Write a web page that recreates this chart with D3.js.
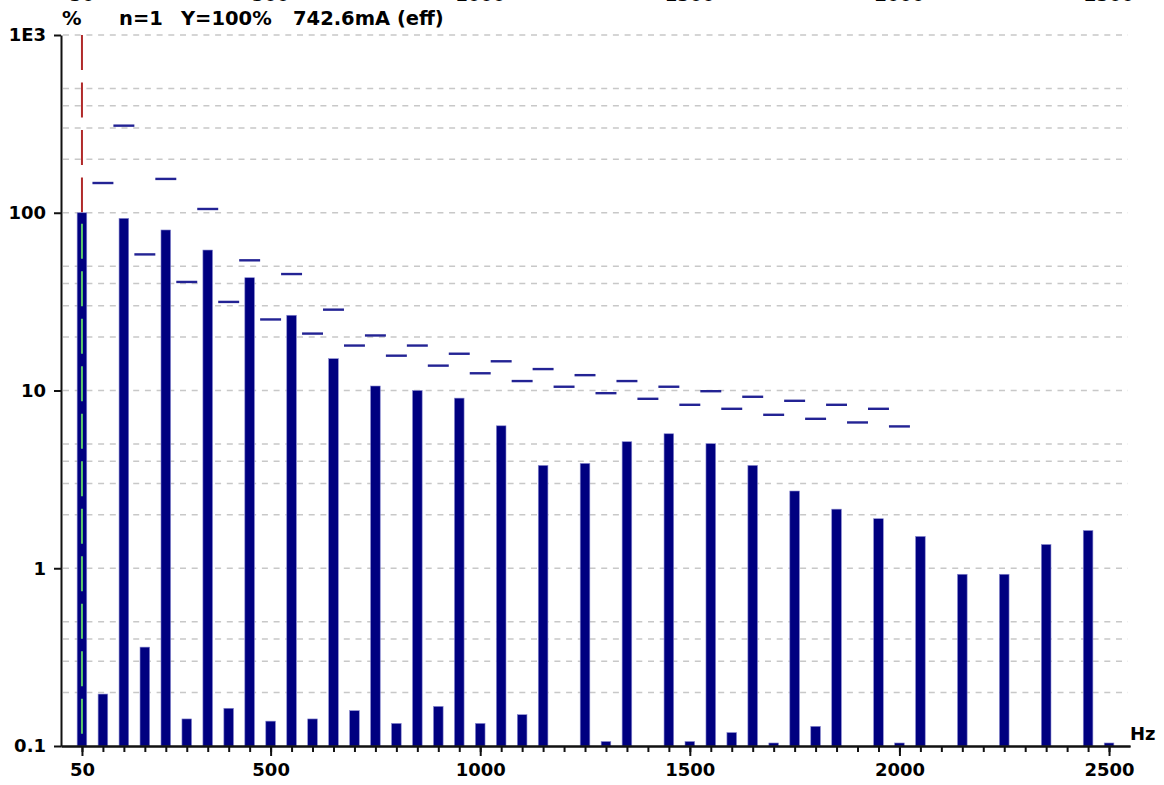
<!DOCTYPE html>
<html>
<head>
<meta charset="UTF-8">
<title>Harmonics</title>
<script src="https://cdn.jsdelivr.net/npm/d3@7"></script>
<style>
  body { margin: 0; background: #fff; }
  text { font-family: "DejaVu Sans", Verdana, sans-serif; font-weight: bold; fill: #000; }
</style>
</head>
<body>
<svg id="chart" width="1164" height="785"></svg>
<script>
  // harmonic frequencies (Hz)
  var freqs = [50, 100, 150, 200, 250, 300, 350, 400, 450, 500,
    550, 600, 650, 700, 750, 800, 850, 900, 950, 1000,
    1050, 1100, 1150, 1200, 1250, 1300, 1350, 1400, 1450, 1500,
    1550, 1600, 1650, 1700, 1750, 1800, 1850, 1900, 1950, 2000,
    2050, 2100, 2150, 2200, 2250, 2300, 2350, 2400, 2450, 2500];

  // measured level in % of fundamental (null = below range)
  var levels = [100, 0.196, 93, 0.36, 80, 0.142, 61.7, 0.163, 43.1, 0.138,
    26.5, 0.142, 15.1, 0.158, 10.6, 0.134, 10.0, 0.167, 9.06, 0.134,
    6.33, 0.150, 3.79, null, 3.89, 0.106, 5.15, null, 5.71, 0.106,
    5.02, 0.119, 3.79, 0.104, 2.72, 0.129, 2.15, null, 1.90, 0.104,
    1.51, null, 0.925, null, 0.925, null, 1.36, null, 1.63, 0.104];

  // limit marks for harmonics 2..40 (in %)
  var limitFreqs = freqs.slice(1, 40);
  var limits = [147, 309, 58.3, 155, 40.8, 105, 31.5, 54, 25.1, 45.2,
    20.9, 28.5, 17.9, 20.4, 15.7, 17.9, 13.8, 16.1, 12.5, 14.6,
    11.3, 13.2, 10.5, 12.2, 9.66, 11.3, 8.98, 10.5, 8.31, 9.91,
    7.89, 9.22, 7.30, 8.75, 6.93, 8.31, 6.61, 7.89, 6.28];

  var yMajor = [0.1, 1, 10, 100, 1000];
  var yMajorLabels = ["0.1", "1", "10", "100", "1E3"];
  var yGrid = [0.2, 0.3, 0.4, 0.5, 1, 2, 3, 4, 5, 10, 20, 30, 40, 50, 100, 200, 300, 400, 500, 1000];
  var xMajor = [50, 500, 1000, 1500, 2000, 2500];

  var svg = d3.select("#chart");

  var x = d3.scaleLinear().domain([0, 2550]).range([61, 1130]);
  var y = d3.scaleLog().domain([0.1, 1000]).range([746, 35]);

  // grid
  svg.append("g").selectAll("line")
    .data(yGrid)
    .enter().append("line")
    .attr("x1", 63).attr("x2", 1128)
    .attr("y1", d => y(d)).attr("y2", d => y(d))
    .attr("stroke", "#c8c8c8")
    .attr("stroke-width", 1.6)
    .attr("stroke-dasharray", "6,5.7");

  // red dashed line above fundamental
  svg.append("line")
    .attr("x1", x(50)).attr("x2", x(50))
    .attr("y1", y(1000)).attr("y2", y(levels[0]))
    .attr("stroke", "#b02a2a")
    .attr("stroke-width", 2)
    .attr("stroke-dasharray", "35,12.5");

  // bars
  var barData = freqs.map((f, i) => ({ f: f, v: levels[i] })).filter(d => d.v != null);
  svg.append("g").selectAll("rect")
    .data(barData)
    .enter().append("rect")
    .attr("x", d => x(d.f - 11.5))
    .attr("width", d => x(d.f + 11.5) - x(d.f - 11.5))
    .attr("y", d => y(d.v))
    .attr("height", d => y(0.1) - y(d.v))
    .attr("fill", "#000080")
    .attr("stroke", "#8a8ad0")
    .attr("stroke-width", 0.6);

  // green dashed line inside fundamental
  svg.append("line")
    .attr("x1", x(50)).attr("x2", x(50))
    .attr("y1", y(levels[0])).attr("y2", y(0.1))
    .attr("stroke", "#5cc86a")
    .attr("stroke-width", 2)
    .attr("stroke-dasharray", "35,12.5")
    .attr("stroke-dashoffset", 36.5);

  // limit dashes
  svg.append("g").selectAll("line")
    .data(limitFreqs.map((f, i) => ({ f: f, v: limits[i] })))
    .enter().append("line")
    .attr("x1", d => x(d.f - 25)).attr("x2", d => x(d.f + 25))
    .attr("y1", d => y(d.v)).attr("y2", d => y(d.v))
    .attr("stroke", "#232394")
    .attr("stroke-width", 2.4);

  // x axis: minor ticks
  var xMinor = svg.append("g")
    .attr("transform", "translate(0," + y(0.1) + ")")
    .call(d3.axisBottom(x).tickValues(freqs).tickSize(6).tickSizeOuter(0).tickFormat(""));
  // x axis: major ticks + labels
  var xAx = svg.append("g")
    .attr("transform", "translate(0," + y(0.1) + ")")
    .call(d3.axisBottom(x).tickValues(xMajor).tickSize(10).tickSizeOuter(0).tickPadding(7)
      .tickFormat(d3.format("d")));

  // y axis
  var yAx = svg.append("g")
    .attr("transform", "translate(61,0)")
    .call(d3.axisLeft(y).tickValues(yMajor).tickSize(7).tickSizeOuter(0).tickPadding(8)
      .tickFormat((d, i) => yMajorLabels[i]));

  [xMinor, xAx, yAx].forEach(g => {
    g.select(".domain").attr("stroke", "#111").attr("stroke-width", 2);
    g.selectAll(".tick line").attr("stroke", "#111").attr("stroke-width", 2);
    g.selectAll("text").style("font-family", "DejaVu Sans, Verdana, sans-serif")
      .style("font-weight", "bold").style("font-size", "18px").attr("fill", "#000");
  });

  // cut-off labels of the chart above
  svg.append("g").selectAll("text")
    .data(xMajor)
    .enter().append("text")
    .attr("x", d => x(d))
    .attr("y", 1)
    .attr("text-anchor", "middle")
    .style("font-size", "18px")
    .attr("fill", "#666")
    .text(d => d);

  // header
  var header = [["%", 62], ["n=1", 119], ["Y=100%", 181], ["742.6mA (eff)", 293]];
  svg.append("g").selectAll("text")
    .data(header)
    .enter().append("text")
    .attr("x", d => d[1])
    .attr("y", 25)
    .style("font-size", "19.5px")
    .text(d => d[0]);

  svg.append("text")
    .attr("x", 1130)
    .attr("y", 740)
    .style("font-size", "18px")
    .text("Hz");
</script>
</body>
</html>
